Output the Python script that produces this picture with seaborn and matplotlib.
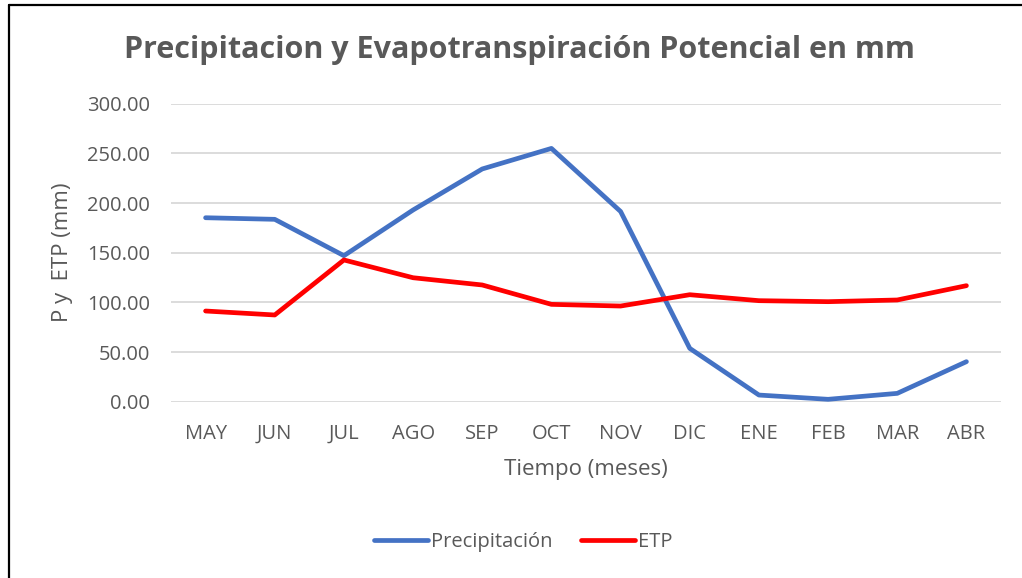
import matplotlib
matplotlib.use("Agg")
import matplotlib.pyplot as plt
from matplotlib.lines import Line2D
import seaborn as sns
import pandas as pd

months = ["MAY", "JUN", "JUL", "AGO", "SEP", "OCT", "NOV", "DIC", "ENE", "FEB", "MAR", "ABR"]
precipitacion = [185.2, 183.6, 147.0, 193.0, 234.3, 255.0, 191.5, 53.7, 6.7, 2.4, 8.4, 40.3]
etp = [91.3, 87.3, 142.7, 124.8, 117.5, 98.0, 96.3, 107.7, 101.7, 100.7, 102.4, 116.8]
y_ticks = [0, 50, 100, 150, 200, 250, 300]

df = pd.DataFrame({
    "mes": months * 2,
    "valor": precipitacion + etp,
    "serie": ["Precipitación"] * len(months) + ["ETP"] * len(months),
})
df["pos"] = list(range(len(months))) * 2

sns.set_theme(style="white")
plt.rcParams["font.family"] = ["Open Sans", "DejaVu Sans"]

gray = "#595959"
W, H = 1022, 578
fig = plt.figure(figsize=(W / 100, H / 100), dpi=100)
ax_bottom, ax_top = 401.7, 103.7
ax = fig.add_axes([171 / W, 1 - ax_bottom / H, 830 / W, (ax_bottom - ax_top) / H])

sns.lineplot(data=df, x="pos", y="valor", hue="serie",
             palette={"Precipitación": "#4472C4", "ETP": "#FF0000"},
             linewidth=3.4, ax=ax, legend=False, solid_capstyle="round")

ax.set_xlim(-0.5, len(months) - 0.5)
ax.set_ylim(0, 300)
ax.set_xticks(range(len(months)))
ax.set_xticklabels(months)
ax.set_yticks(y_ticks)
ax.set_yticklabels([f"{v:.2f}" for v in y_ticks])
ax.tick_params(axis="both", length=0, labelsize=14.5, labelcolor=gray)
ax.tick_params(axis="x", pad=16)
ax.tick_params(axis="y", pad=15)
ax.grid(axis="y", color="#d9d9d9", linewidth=1.3)
ax.set_axisbelow(True)
for s in ax.spines.values():
    s.set_visible(False)

ax.set_xlabel("Tiempo (meses)", fontsize=16, color=gray, va="top")
ax.xaxis.set_label_coords(0.5, (ax_bottom - 459) / (ax_bottom - ax_top))
ax.set_ylabel("P y  ETP (mm)", fontsize=16, color=gray)
ax.yaxis.set_label_coords((73 - 171) / 830, 0.5)

fig.text(519 / W, 1 - 50 / H, "Precipitacion y Evapotranspiración Potencial en mm",
         ha="center", va="center", fontsize=22, fontweight="bold", color=gray)

handles = [Line2D([], [], color="#4472C4", linewidth=3.4, solid_capstyle="round"),
           Line2D([], [], color="#FF0000", linewidth=3.4, solid_capstyle="round")]
fig.legend(handles, ["Precipitación", "ETP"], loc="center", bbox_to_anchor=(523 / W, 1 - 542 / H),
           ncol=2, frameon=False, fontsize=14.5, labelcolor=gray, handlelength=2.7,
           handletextpad=0.15, columnspacing=1.4)

# outer frame (left and top edges)
fig.add_artist(Line2D([8.5 / W, 8.5 / W], [0, 1 - 5 / H], color="black", linewidth=1.6,
                      transform=fig.transFigure))
fig.add_artist(Line2D([8.5 / W, 1], [1 - 5 / H, 1 - 5 / H], color="black", linewidth=1.6,
                      transform=fig.transFigure))

fig.savefig("out.png", dpi=100, facecolor="white")
